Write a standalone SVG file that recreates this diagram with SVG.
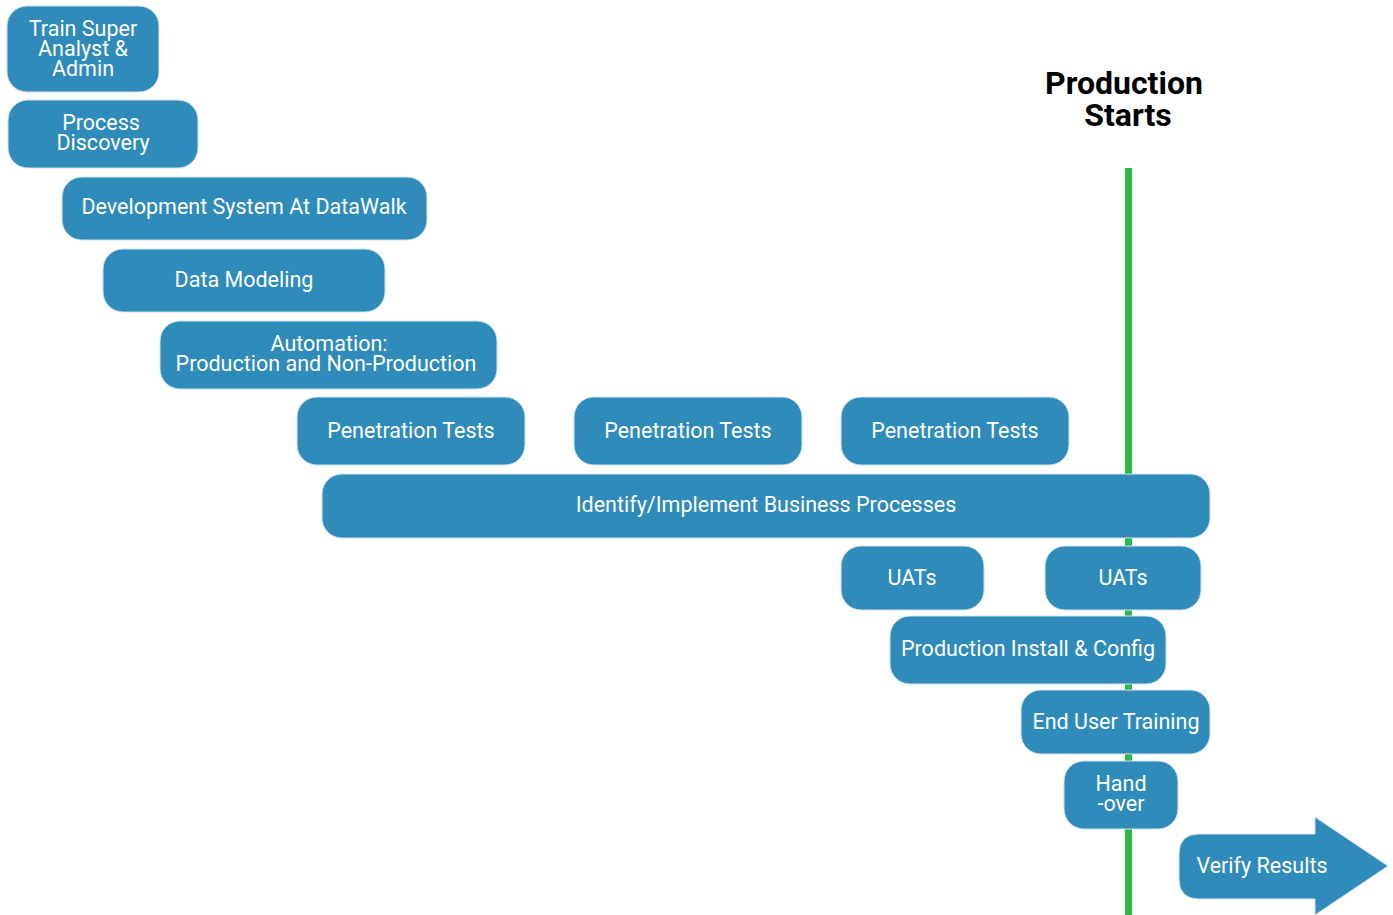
<svg xmlns="http://www.w3.org/2000/svg" width="1393" height="915" viewBox="0 0 1393 915">
  <style>
    .box { fill: #2e8bba; stroke: #cfe3ee; stroke-width: 1; }
    .lbl { fill: #ffffff; font-family: Roboto, "Liberation Sans", sans-serif; font-size: 21.5px; text-anchor: middle; }
    .title { fill: #000000; font-family: Roboto, "Liberation Sans", sans-serif; font-size: 32px; font-weight: bold; text-anchor: middle; }
  </style>
  <rect width="1393" height="915" fill="#ffffff"/>

  <!-- milestone line -->
  <g id="connectors">
    <line x1="1128.5" y1="168" x2="1128.5" y2="915" stroke="#2db84a" stroke-width="7"/>
  </g>

  <g id="milestone">
    <text class="title" x="1124" y="94">Production</text>
    <text class="title" x="1128" y="126">Starts</text>
  </g>

  <g id="train">
    <rect class="box" x="7" y="6" width="152" height="86" rx="20"/>
    <text class="lbl" x="83" y="36">Train Super</text>
    <text class="lbl" x="83" y="56">Analyst &amp;</text>
    <text class="lbl" x="83" y="76">Admin</text>
  </g>

  <g id="discovery">
    <rect class="box" x="8" y="100" width="190" height="68" rx="20"/>
    <text class="lbl" x="101" y="130">Process</text>
    <text class="lbl" x="103" y="150">Discovery</text>
  </g>

  <g id="devsystem">
    <rect class="box" x="62" y="177" width="365" height="63" rx="20"/>
    <text class="lbl" x="244" y="214">Development System At DataWalk</text>
  </g>

  <g id="datamodeling">
    <rect class="box" x="103" y="249" width="282" height="63" rx="20"/>
    <text class="lbl" x="244" y="287">Data Modeling</text>
  </g>

  <g id="automation">
    <rect class="box" x="160" y="321" width="337" height="68" rx="20"/>
    <text class="lbl" x="329" y="351">Automation:</text>
    <text class="lbl" x="326" y="371">Production and Non-Production</text>
  </g>

  <g id="pentest1">
    <rect class="box" x="297" y="397" width="228" height="68" rx="20"/>
    <text class="lbl" x="411" y="438">Penetration Tests</text>
  </g>

  <g id="pentest2">
    <rect class="box" x="574" y="397" width="228" height="68" rx="20"/>
    <text class="lbl" x="688" y="438">Penetration Tests</text>
  </g>

  <g id="pentest3">
    <rect class="box" x="841" y="397" width="228" height="68" rx="20"/>
    <text class="lbl" x="955" y="438">Penetration Tests</text>
  </g>

  <g id="processes">
    <rect class="box" x="322" y="474" width="888" height="64" rx="20"/>
    <text class="lbl" x="766" y="512">Identify/Implement Business Processes</text>
  </g>

  <g id="uat1">
    <rect class="box" x="841" y="546" width="143" height="64" rx="20"/>
    <text class="lbl" x="912" y="585">UATs</text>
  </g>

  <g id="uat2">
    <rect class="box" x="1045" y="546" width="156" height="64" rx="20"/>
    <text class="lbl" x="1123" y="585">UATs</text>
  </g>

  <g id="install">
    <rect class="box" x="890" y="616" width="276" height="68" rx="20"/>
    <text class="lbl" x="1028" y="656">Production Install &amp; Config</text>
  </g>

  <g id="training">
    <rect class="box" x="1021" y="690" width="189" height="64" rx="20"/>
    <text class="lbl" x="1116" y="729">End User Training</text>
  </g>

  <g id="handover">
    <rect class="box" x="1064" y="761" width="114" height="68" rx="20"/>
    <text class="lbl" x="1121" y="791">Hand</text>
    <text class="lbl" x="1121" y="811">-over</text>
  </g>

  <g id="verify">
    <path class="box" d="M1199,834 H1315 V817 L1388,866 L1315,915 V899 H1199 Q1179,899 1179,879 V854 Q1179,834 1199,834 Z"/>
    <text class="lbl" x="1262" y="873">Verify Results</text>
  </g>
</svg>
